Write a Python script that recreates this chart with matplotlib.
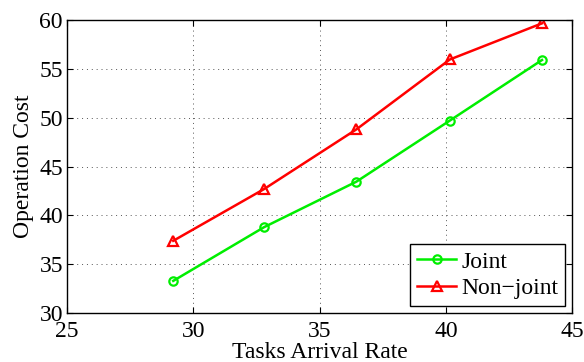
import matplotlib
matplotlib.use('Agg')
import matplotlib.pyplot as plt

# datos
rate       = [29.2, 32.8, 36.45, 40.15, 43.8]
cost_joint = [33.3, 38.8, 43.45, 49.7, 55.9]
cost_non   = [37.4, 42.7, 48.8, 55.95, 59.65]

plt.rcParams['font.family'] = ['Liberation Serif', 'DejaVu Serif']
plt.rcParams['mathtext.fontset'] = 'stix'

fig, ax = plt.subplots(figsize=(5.84, 3.62), dpi=100)

ax.plot(rate, cost_joint, color='#00ee00', lw=1.8, marker='o', ms=6,
        mfc='none', mew=1.6, label='Joint')
ax.plot(rate, cost_non, color='red', lw=1.8, marker='^', ms=7,
        mfc='none', mew=1.6, label='Non\u2212joint')

ax.set_xlim(25, 45)
ax.set_ylim(30, 60)
ax.set_xticks([25, 30, 35, 40, 45])
ax.set_yticks([30, 35, 40, 45, 50, 55, 60])
ax.tick_params(direction='in', labelsize=17, length=4, top=True, right=True)
ax.tick_params(axis='x', pad=6)
ax.tick_params(axis='y', pad=3)
ax.set_xlabel('Tasks Arrival Rate', fontsize=17, labelpad=0)
ax.set_ylabel('Operation Cost', fontsize=17, labelpad=4)
ax.grid(True, color='#555555', ls=(0, (1, 4)), lw=0.7)
for s in ax.spines.values():
    s.set_linewidth(1.0)

leg = ax.legend(loc='lower right', fontsize=17, fancybox=False, framealpha=1,
                edgecolor='black', borderpad=0.3, labelspacing=0.2,
                handlelength=1.65, handletextpad=0.2, borderaxespad=0.3)
leg.get_frame().set_linewidth(1.0)

fig.subplots_adjust(left=0.115, right=0.98, top=0.945, bottom=0.135)
fig.savefig('out.png', dpi=100)
